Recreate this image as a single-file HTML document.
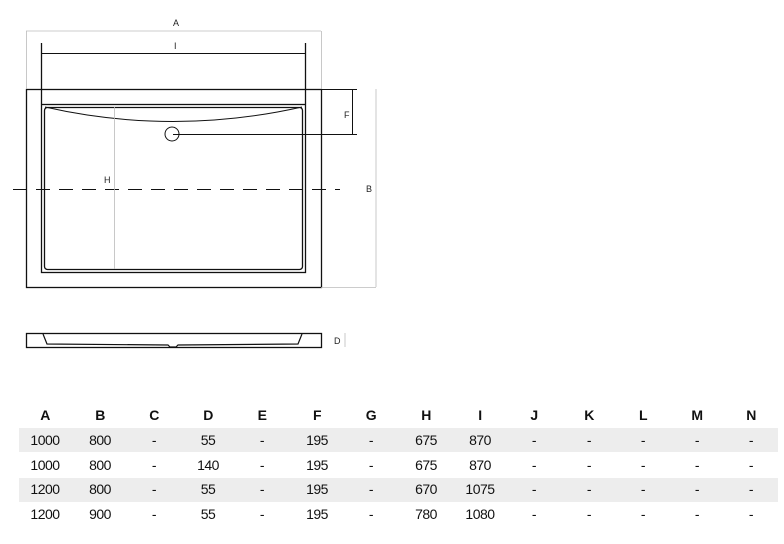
<!DOCTYPE html>
<html><head><style>
body{margin:0;width:784px;height:544px;background:#fff;position:relative;overflow:hidden;font-family:"Liberation Sans",sans-serif}
svg{position:absolute;left:0;top:0}
.band{position:absolute;left:19px;width:759px;height:24px;background:#ededed}
.c{position:absolute;width:60px;margin-left:-30px;text-align:center;font-size:14px;color:#111;letter-spacing:-0.5px}
.h{font-weight:bold}
</style></head><body>
<svg width="784" height="400" viewBox="0 0 784 400">
<g fill="none" stroke="#111" stroke-width="1.3">
<rect x="26.5" y="89.5" width="295" height="198"/>
<rect x="41.5" y="104.5" width="264" height="168"/>
<rect x="44.5" y="107.5" width="258" height="162" rx="3"/>
<path d="M45 107 Q173 136 302 107" stroke-width="1"/>
<line x1="41.5" y1="43" x2="41.5" y2="104"/>
<line x1="305.5" y1="43" x2="305.5" y2="104"/>
<line x1="41" y1="53.5" x2="305" y2="53.5" stroke-width="1"/>
<line x1="321" y1="89.5" x2="357" y2="89.5" stroke-width="1"/>
<line x1="352.5" y1="89" x2="352.5" y2="134" stroke-width="1"/>
<line x1="173" y1="134.5" x2="357" y2="134.5" stroke-width="1"/>
<circle cx="172" cy="134" r="7" stroke-width="1"/>
<line x1="13" y1="189.5" x2="340" y2="189.5" stroke-dasharray="14,9" stroke-width="1"/>
<rect x="26.5" y="333.5" width="295" height="14"/>
<path d="M43 334 L47 344 L168 345 L170 347 L176 347 L178 345 L298 344 L302 334" stroke-width="1.2"/>
</g>
<g stroke="#bbb" stroke-width="0.8" fill="none">
<line x1="26" y1="31" x2="321" y2="31"/>
<line x1="26.5" y1="31" x2="26.5" y2="89"/>
<line x1="321.5" y1="31" x2="321.5" y2="89"/>
<line x1="376" y1="89" x2="376" y2="287"/>
<line x1="321" y1="287.5" x2="376" y2="287.5"/>
<line x1="114.5" y1="107" x2="114.5" y2="269"/>
<line x1="345" y1="333" x2="345" y2="347"/>
</g>
<g font-size="9" fill="#222" font-family="Liberation Sans,sans-serif">
<text x="173" y="26">A</text>
<text x="174" y="49">I</text>
<text x="344" y="118">F</text>
<text x="104" y="183">H</text>
<text x="366" y="192">B</text>
<text x="334" y="344">D</text>
</g>
</svg>
<div class="band" style="top:428px"></div>
<div class="band" style="top:478px"></div>
<div id="t"></div>
<script>
var cols=[45,100,154,208,262,317,371,426,480,534,589,643,697,751];
var rows=[["A","B","C","D","E","F","G","H","I","J","K","L","M","N"],
["1000","800","-","55","-","195","-","675","870","-","-","-","-","-"],
["1000","800","-","140","-","195","-","675","870","-","-","-","-","-"],
["1200","800","-","55","-","195","-","670","1075","-","-","-","-","-"],
["1200","900","-","55","-","195","-","780","1080","-","-","-","-","-"]];
var ys=[407,432,457,481,506],h="";
rows.forEach(function(r,i){r.forEach(function(v,j){h+='<div class="c'+(i==0?' h':'')+'" style="left:'+cols[j]+'px;top:'+ys[i]+'px">'+v+'</div>';});});
document.getElementById('t').innerHTML=h;
</script>
</body></html>
